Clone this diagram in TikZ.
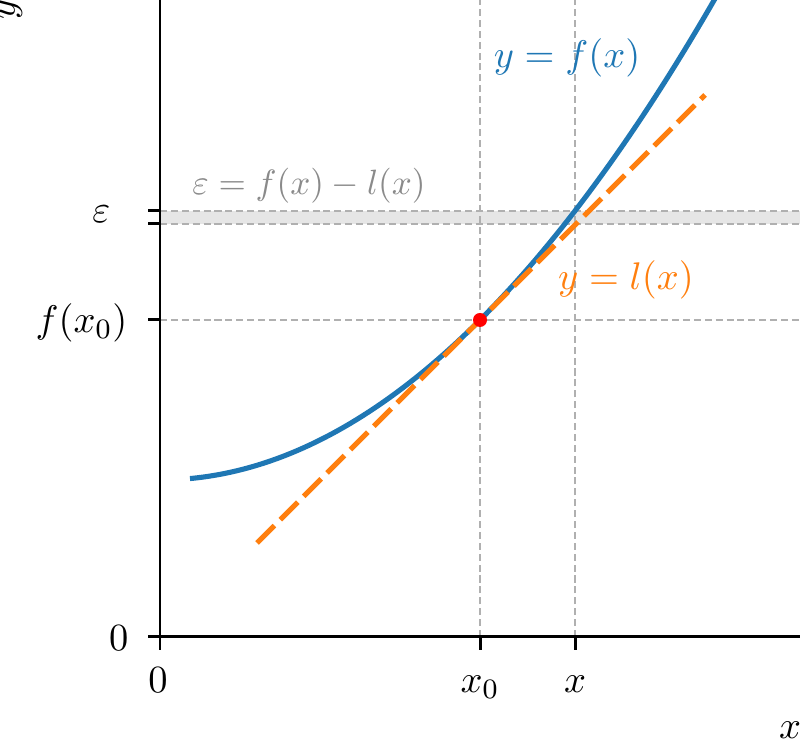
\documentclass[tikz,border=0pt]{standalone}
\definecolor{fblue}{HTML}{1F77B4}
\definecolor{lorange}{HTML}{FF7F0E}
\definecolor{guidegray}{HTML}{B0B0B0}
\definecolor{bandgray}{HTML}{E6E6E6}
\definecolor{labgray}{HTML}{8A8A8A}
\tikzset{
  axisline/.style={line width=0.85pt},
  guideline/.style={guidegray, line width=0.55pt, dash pattern=on 2pt off 1.1pt},
  ticklab/.style={anchor=base east, inner sep=0pt},
}
\begin{document}
\begin{tikzpicture}[font=\fontsize{11}{13}\selectfont]
\useasboundingbox (-1.60,-1.06) rectangle (6.43,6.37);
% error band
\fill[bandgray] (0,4.13) rectangle (6.40,4.26);
% guides
\foreach \x in {3.20,4.15}{
  \draw[guideline] (\x,0) -- (\x,6.37);
}
\foreach \y in {3.17,4.13,4.26}{
  \draw[guideline] (0,\y) -- (6.40,\y);
}
% axes and ticks
\coordinate (O) at (0,0);
\coordinate (xend) at (6.40,0);
\coordinate (yend) at (0,6.37);
\draw[axisline] (O) -- (xend);
\draw[axisline] (O) -- (yend);
\foreach \y in {0,3.17,4.13,4.26}{
  \draw[axisline] (-0.12,\y) -- (0,\y);
}
\foreach \x in {0,3.20,4.15}{
  \draw[axisline] (\x,-0.13) -- (\x,0);
}
% curve and tangent
\draw[fblue, line width=1.45pt, domain=0.30:5.56, samples=80]
  plot (\x,{1.57+\x*\x/6.4});
\draw[lorange, line width=1.45pt, dash pattern=on 7pt off 2.4pt]
  (0.97,0.94) -- (5.45,5.42);
\fill[red] (3.20,3.17) circle (0.07);
% labels
\node[ticklab] (ylab0) at (-0.31,-0.14) {$0$};
\node[ticklab] (ylabf) at (-0.32,3.04) {$f(x_0)$};
\node[ticklab] (ylabe) at (-0.49,4.14) {$\varepsilon$};
\foreach \x/\lab in {-0.02/0,3.20/{x_0},4.15/x}{
  \node[anchor=base] at (\x,-0.56) {$\lab$};
}
\node[fblue] (flab) at (4.07,5.79) {$y=f(x)$};
\node[lorange] (llab) at (4.66,3.57) {$y=l(x)$};
\node[labgray, font=\fontsize{10}{12}\selectfont] (elab) at (1.49,4.51) {$\varepsilon=f(x)-l(x)$};
\node (xlab) at (6.30,-0.93) {$x$};
\node[rotate=90] (ylab) at (-1.50,6.28) {$y$};
\end{tikzpicture}
\end{document}
